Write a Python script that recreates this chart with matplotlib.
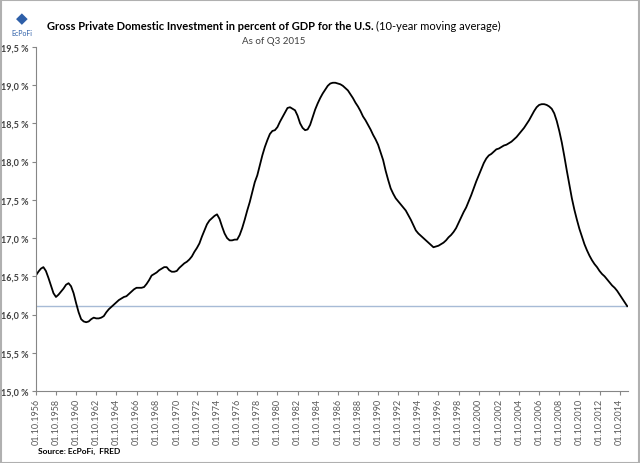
import matplotlib.pyplot as plt
import matplotlib.patches as mpatches
import pandas as pd

# quarterly 10-year moving average, first quarter 1956 Q4, last 2015 Q3 (in %)
START = "1956-10-01"
VALUES = [
    16.51, 16.56, 16.60, 16.62, 16.57, 16.48, 16.38, 16.28,
    16.23, 16.26, 16.30, 16.34, 16.39, 16.41, 16.37, 16.28,
    16.15, 16.03, 15.94, 15.91, 15.90, 15.91, 15.94, 15.96,
    15.95, 15.95, 15.96, 15.98, 16.03, 16.07, 16.10, 16.13,
    16.16, 16.19, 16.21, 16.23, 16.24, 16.27, 16.30, 16.33,
    16.35, 16.35, 16.35, 16.36, 16.40, 16.45, 16.51, 16.53,
    16.55, 16.58, 16.60, 16.62, 16.62, 16.58, 16.56, 16.56,
    16.57, 16.61, 16.64, 16.67, 16.69, 16.72, 16.76, 16.82,
    16.87, 16.93, 17.02, 17.10, 17.18, 17.23, 17.26, 17.29,
    17.31, 17.25, 17.15, 17.06, 17.00, 16.97, 16.97, 16.98,
    16.98, 17.04, 17.13, 17.24, 17.36, 17.47, 17.60, 17.73,
    17.82, 17.95, 18.08, 18.19, 18.28, 18.36, 18.40, 18.41,
    18.45, 18.52, 18.58, 18.64, 18.70, 18.71, 18.69, 18.67,
    18.60, 18.50, 18.44, 18.41, 18.42, 18.48, 18.58, 18.68,
    18.76, 18.83, 18.89, 18.94, 18.99, 19.02, 19.03, 19.03,
    19.02, 19.01, 18.99, 18.96, 18.93, 18.88, 18.83, 18.77,
    18.72, 18.66, 18.59, 18.54, 18.48, 18.42, 18.35, 18.29,
    18.22, 18.12, 18.02, 17.88, 17.76, 17.65, 17.58, 17.52,
    17.48, 17.44, 17.40, 17.36, 17.30, 17.24, 17.17, 17.10,
    17.06, 17.03, 17.00, 16.97, 16.94, 16.91, 16.88, 16.89,
    16.90, 16.92, 16.94, 16.97, 17.01, 17.04, 17.08, 17.13,
    17.20, 17.27, 17.34, 17.40, 17.48, 17.56, 17.65, 17.74,
    17.82, 17.90, 17.98, 18.04, 18.08, 18.10, 18.13, 18.16,
    18.17, 18.19, 18.21, 18.22, 18.24, 18.26, 18.29, 18.32,
    18.36, 18.40, 18.44, 18.49, 18.54, 18.60, 18.66, 18.71,
    18.74, 18.75, 18.75, 18.74, 18.72, 18.69, 18.63, 18.53,
    18.40, 18.25, 18.07, 17.88, 17.70, 17.52, 17.37, 17.24,
    17.12, 17.02, 16.92, 16.84, 16.77, 16.71, 16.66, 16.62,
    16.57, 16.53, 16.50, 16.46, 16.42, 16.38, 16.35, 16.31,
    16.26, 16.21, 16.16, 16.11,
]
Y_TICKS = [15.0, 15.5, 16.0, 16.5, 17.0, 17.5, 18.0, 18.5, 19.0, 19.5]

TITLE_BOLD = "Gross Private Domestic Investment in percent of GDP for the U.S. "
TITLE_REST = "(10-year moving average)"
SUBTITLE = "As of Q3 2015"
SOURCE = "Source: EcPoFi,  FRED"

plt.rcParams["font.family"] = ["Lato", "DejaVu Sans"]

dates = pd.date_range(START, periods=len(VALUES), freq="QS-OCT")
idx = list(range(len(VALUES)))

fig = plt.figure(figsize=(6.4, 4.64), dpi=100)
ax = fig.add_axes([0.056, 0.155, 0.926, 0.742])

ax.axhline(VALUES[-1], color="#a7bbd6", lw=1.0, zorder=1)
ax.plot(idx, VALUES, color="black", lw=1.3, zorder=2)

ax.set_xlim(0, len(VALUES) - 0.5)
ax.set_ylim(Y_TICKS[0], Y_TICKS[-1])
ax.set_yticks(Y_TICKS)
ax.set_yticklabels([f"{t:.1f} %".replace(".", ",") for t in Y_TICKS],
                   fontsize=6.5, fontweight="bold", color="#404040")

xt = idx[::8]
ax.set_xticks(xt)
ax.set_xticklabels([dates[i].strftime("%d.%m.%Y") for i in xt],
                   rotation=90, fontsize=6.5, color="#595959")

for side in ["top", "right"]:
    ax.spines[side].set_visible(False)
for side in ["left", "bottom"]:
    ax.spines[side].set_color("#868686")
    ax.spines[side].set_linewidth(0.8)
ax.tick_params(axis="both", direction="out", length=3, width=0.8,
               color="#868686", pad=2)

# title: bold part followed by regular part, centred as a whole
t1 = fig.text(0.0, 0.942, TITLE_BOLD, ha="left", va="center",
              fontsize=8, fontweight="bold")
t2 = fig.text(0.0, 0.942, TITLE_REST, ha="left", va="center", fontsize=8)
fig.canvas.draw()
w1 = t1.get_window_extent().width / fig.bbox.width
w2 = t2.get_window_extent().width / fig.bbox.width
x0 = 0.428 - (w1 + w2) / 2
t1.set_x(x0)
t2.set_x(x0 + w1)

fig.text(0.428, 0.911, SUBTITLE, ha="center", va="center", fontsize=7,
         color="#404040")

fig.text(0.059, 0.027, SOURCE, ha="left", va="center", fontsize=6,
         fontweight="bold")
fig.text(0.034, 0.927, "EcPoFi", ha="center", va="center", fontsize=5,
         color="#2e5fa8")
fig.text(0.034, 0.958, "\u25c6", ha="center", va="center", fontsize=11,
         color="#2e5fa8")

fig.patches.append(mpatches.Rectangle((0.001, 0.001), 0.997, 0.997,
                                      transform=fig.transFigure, fill=False,
                                      edgecolor="#b0b0b0", lw=1.5))

fig.savefig("out.png", dpi=100)
